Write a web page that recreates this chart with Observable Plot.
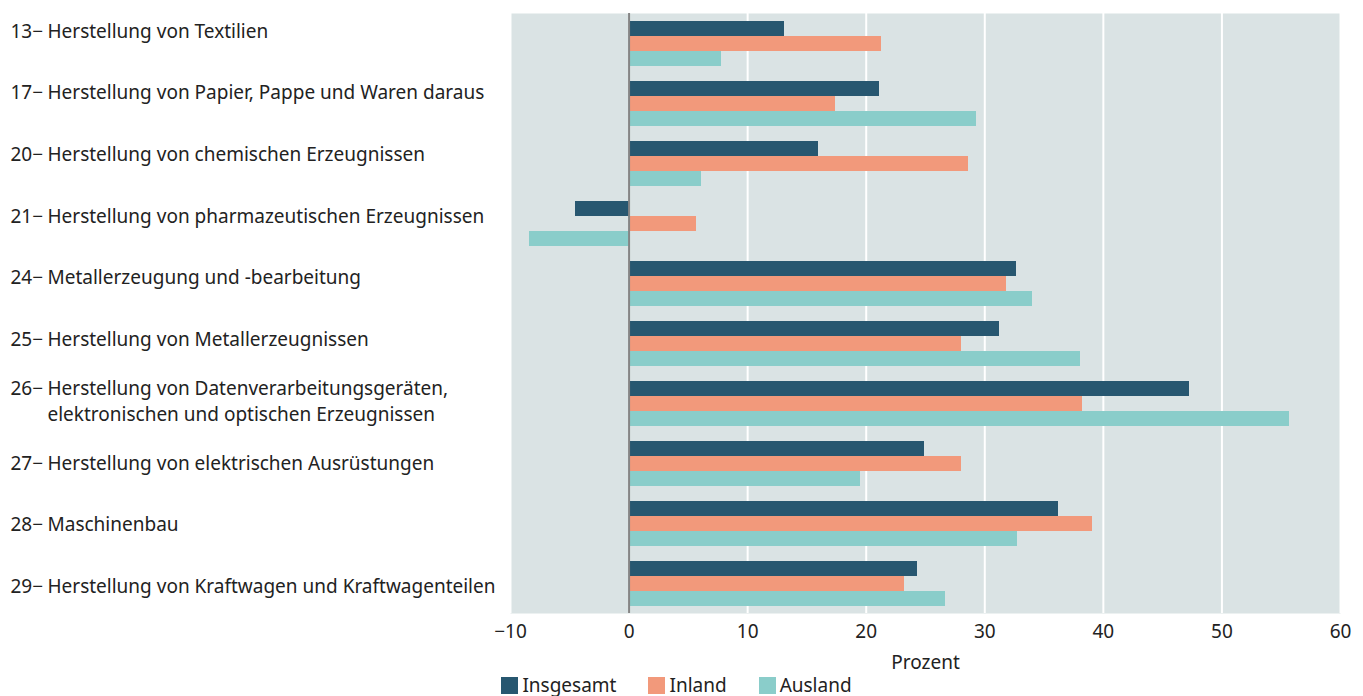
<!DOCTYPE html>
<html>
<head>
<meta charset="utf-8">
<script src="https://cdn.jsdelivr.net/npm/d3@7"></script>
<script src="https://cdn.jsdelivr.net/npm/@observablehq/plot@0.6"></script>
<style>
  body { margin: 0; background: #fff; font-family: "Noto Sans", sans-serif; }
  #wrap { position: relative; width: 1363px; }
  #labels { position: absolute; left: 0; top: -2px; }
  #legend { display: flex; justify-content: center; margin-top: -3px; margin-left: 22px; line-height: 1.15; }
  #legend > * { min-height: 0 !important; margin: 0 !important; }
  #legend [class$="-swatch"] { margin-right: 32px !important; }
  #legend [class$="-swatch"] svg { margin-right: 4px !important; }
</style>
</head>
<body>
<div id="wrap">
  <div id="chart"></div>
  <div id="labels"></div>
</div>
<div id="legend"></div>
<script>
const codes = ["13", "17", "20", "21", "24", "25", "26", "27", "28", "29"];
const names = [
  "Herstellung von Textilien",
  "Herstellung von Papier, Pappe und Waren daraus",
  "Herstellung von chemischen Erzeugnissen",
  "Herstellung von pharmazeutischen Erzeugnissen",
  "Metallerzeugung und -bearbeitung",
  "Herstellung von Metallerzeugnissen",
  "Herstellung von Datenverarbeitungsgeräten,\nelektronischen und optischen Erzeugnissen",
  "Herstellung von elektrischen Ausrüstungen",
  "Maschinenbau",
  "Herstellung von Kraftwagen und Kraftwagenteilen"
];
const series = ["Insgesamt", "Inland", "Ausland"];
const insgesamt = [13.1, 21.1, 16.0, -4.5, 32.7, 31.2, 47.3, 24.9, 36.2, 24.3];
const inland    = [21.3, 17.4, 28.6,  5.7, 31.8, 28.0, 38.2, 28.0, 39.1, 23.2];
const ausland   = [ 7.8, 29.3,  6.1, -8.4, 34.0, 38.1, 55.7, 19.5, 32.8, 26.7];
const xTicks = [-10, 0, 10, 20, 30, 40, 50, 60];
const colors = ["#275770", "#f2997b", "#8acdca"];

const seriesValues = [insgesamt, inland, ausland];
const rows = [];
names.forEach((n, i) => series.forEach((s, j) => rows.push({category: n, series: s, value: seriesValues[j][i]})));

const font = "'Noto Sans', sans-serif";

const chart = Plot.plot({
  width: 1363,
  height: 678,
  marginLeft: 510,
  marginRight: 23,
  marginTop: 11,
  marginBottom: 64,
  style: {fontFamily: font, fontSize: "19px", color: "#222", background: "transparent"},
  x: {domain: [-10, 60], ticks: xTicks, tickSize: 0, tickPadding: 11, label: "Prozent", labelAnchor: "center", labelOffset: 55, labelArrow: "none"},
  fy: {domain: names, padding: 0, axis: null},
  y: {domain: series, paddingInner: 0, paddingOuter: 0.425, axis: null},
  color: {domain: series, range: colors},
  marks: [
    Plot.frame({fill: "#dae3e4", stroke: null, facet: "super"}),
    Plot.gridX(xTicks.filter(t => t !== 0), {stroke: "#fff", strokeOpacity: 1, strokeWidth: 2}),
    Plot.barX(rows, {x: "value", y: "series", fy: "category", fill: "series", inset: 0, shapeRendering: "crispEdges"}),
    Plot.ruleX([0], {stroke: "#858585", strokeWidth: 2})
  ]
});
document.getElementById("chart").appendChild(chart);

const labelData = names.map((n, i) => ({name: n, code: codes[i]}));
const labels = Plot.plot({
  width: 510,
  height: 617,
  marginLeft: 10,
  marginRight: 0,
  marginTop: 0,
  marginBottom: 0,
  style: {fontFamily: font, fontSize: "19px", color: "#222", background: "transparent"},
  y: {type: "band", domain: names, padding: 0, round: false, axis: null},
  marks: [
    Plot.text(labelData, {y: "name", text: d => d.code + "\u2212" + "\n".repeat(d.name.split("\n").length - 1), frameAnchor: "left", textAnchor: "start", lineHeight: 1.37, fill: "#222"}),
    Plot.text(labelData, {y: "name", text: "name", frameAnchor: "left", textAnchor: "start", dx: 37, lineHeight: 1.37, fill: "#222"})
  ]
});
document.getElementById("labels").appendChild(labels);

const legend = Plot.legend({
  color: {domain: series, range: colors},
  swatchSize: 17,
  style: {fontFamily: font, fontSize: "19px", color: "#222"}
});
document.getElementById("legend").appendChild(legend);
</script>
</body>
</html>
